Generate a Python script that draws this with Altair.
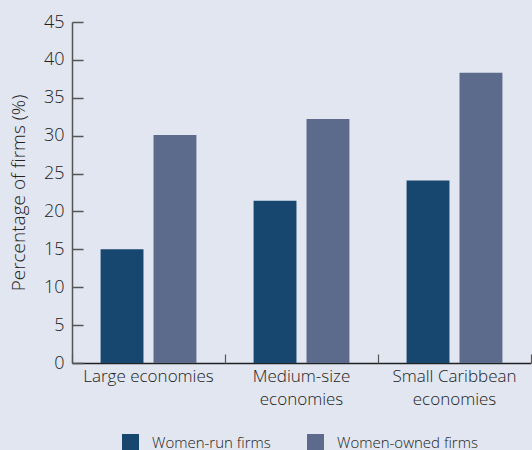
import altair as alt
import pandas as pd

categories = ["Large economies", "Medium-size economies", "Small Caribbean economies"]
series = ["Women-run firms", "Women-owned firms"]
women_run = [15.0, 21.4, 24.1]
women_owned = [30.1, 32.2, 38.3]
y_ticks = [0, 5, 10, 15, 20, 25, 30, 35, 40, 45]

rows = []
for c, r, o in zip(categories, women_run, women_owned):
    rows.append({"category": c, "series": series[0], "value": r})
    rows.append({"category": c, "series": series[1], "value": o})
df = pd.DataFrame(rows)

W, H = 459, 341
FONT = "Open Sans"
FW = 300
TXT = "#222222"
AX = "#555555"

label_expr = ("datum.label == 'Large economies' ? datum.label : "
              "split(replace(datum.label, ' economies', '|economies'), '|')")

x_scale = alt.Scale(domain=categories, paddingInner=0, paddingOuter=0)
y_scale = alt.Scale(domain=[0, 45], nice=False)
color_scale = alt.Scale(domain=series, range=["#17476f", "#5c6b8c"])

bars = alt.Chart(df).mark_bar().encode(
    x=alt.X("category:N", scale=x_scale, sort=categories,
            axis=alt.Axis(title=None, orient="bottom", ticks=False, domain=True,
                          domainColor="#222222", domainWidth=1.5,
                          labelExpr=label_expr, labelFont=FONT, labelFontSize=17,
                          labelFontWeight=FW,
                          labelColor=TXT, labelPadding=5, labelAngle=0,
                          labelLineHeight=23)),
    xOffset=alt.XOffset("series:N", sort=series,
                        scale=alt.Scale(paddingInner=0.19, paddingOuter=0.54)),
    y=alt.Y("value:Q", scale=y_scale,
            axis=alt.Axis(title="Percentage of firms (%)", orient="left",
                          values=y_ticks, ticks=False, domain=True,
                          domainColor=AX, domainWidth=1.5, grid=False,
                          labelFont=FONT, labelFontSize=18, labelFontWeight=FW,
                          labelColor=TXT,
                          labelPadding=8, titleFont=FONT, titleFontSize=19,
                          titleFontWeight=FW, titleColor=TXT,
                          titlePadding=15)),
    color=alt.Color("series:N", scale=color_scale, sort=series,
                    legend=alt.Legend(title=None, orient="none", direction="horizontal",
                                      legendX=50, legendY=412,
                                      symbolType="square", symbolSize=289,
                                      symbolStrokeWidth=0, symbolOpacity=1,
                                      labelFont=FONT, labelFontSize=15,
                                      labelFontWeight=FW,
                                      labelColor=TXT, labelOffset=13,
                                      columnPadding=36)),
)

tick_layer = alt.Chart(df).mark_bar(opacity=0).encode(
    x=alt.X("category:N", scale=x_scale, sort=categories,
            axis=alt.Axis(title=None, orient="top", offset=-H, labels=False,
                          domain=False, ticks=True, tickBand="extent",
                          tickSize=9, tickColor=AX, tickWidth=1.2)),
    y=alt.Y("value:Q", scale=y_scale,
            axis=alt.Axis(title=None, orient="right", offset=-W, labels=False,
                          values=y_ticks, domain=False, ticks=True, grid=False,
                          tickSize=11, tickColor=AX, tickWidth=1.5)),
)

chart = alt.layer(bars, tick_layer).resolve_axis(
    x="independent", y="independent"
).properties(
    width=W, height=H,
    background="#e1e6f0",
    autosize=alt.AutoSizeParams(type="none"),
    padding={"left": 72, "top": 22, "right": 1, "bottom": 87},
).configure_view(stroke=None)

chart.save("out.html", embed_options={"renderer": "svg", "actions": False})
